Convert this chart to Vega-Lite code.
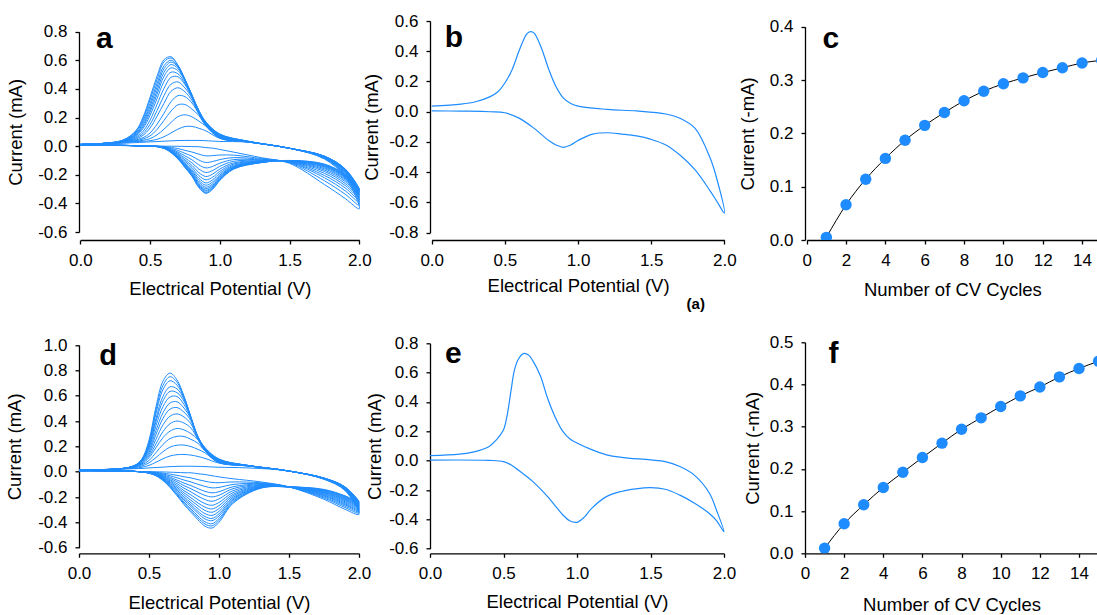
{
"$schema":"https://vega.github.io/schema/vega-lite/v6.json",
"background":"white",
"padding":{"left":5,"top":12,"right":0,"bottom":0},
"autosize":{"type":"pad"},
"config":{
 "locale":{"number":{"decimal":".","thousands":",","grouping":[3],"currency":["$",""],"minus":"-"}},
 "view":{"stroke":null},
 "font":"Liberation Sans",
 "text":{"font":"Liberation Sans"},
 "axis":{"domainColor":"black","domainWidth":1.3,"tickColor":"black","tickWidth":1.3,"tickSize":4,"labelColor":"black","labelFontSize":17,"labelFont":"Liberation Sans","titleFont":"Liberation Sans","titleFontSize":18.5,"titleFontWeight":"normal","titleColor":"black","grid":false,"labelPadding":8,"labelFlush":false,"labelOverlap":false,"tickCount":20}
},
"datasets":{
"a":[
{"c":1,"x":0,"y":0.012},{"c":1,"x":0.3,"y":0.02},{"c":1,"x":0.4,"y":0.025},{"c":1,"x":0.45,"y":0.027},{"c":1,"x":0.5,"y":0.03},{"c":1,"x":0.55,"y":0.032},{"c":1,"x":0.6,"y":0.035},{"c":1,"x":0.65,"y":0.037},{"c":1,"x":0.7,"y":0.039},{"c":1,"x":0.75,"y":0.04},{"c":1,"x":0.8,"y":0.04},{"c":1,"x":0.85,"y":0.04},{"c":1,"x":0.9,"y":0.038},{"c":1,"x":1,"y":0.033},{"c":1,"x":1.2,"y":0.028},{"c":1,"x":1.5,"y":-0.015},{"c":1,"x":1.75,"y":-0.09},{"c":1,"x":1.9,"y":-0.219},{"c":1,"x":2,"y":-0.438},
{"c":1,"x":1.9,"y":-0.367},{"c":1,"x":1.75,"y":-0.268},{"c":1,"x":1.5,"y":-0.12},{"c":1,"x":1.3,"y":-0.081},{"c":1,"x":1.1,"y":-0.042},{"c":1,"x":1,"y":-0.023},{"c":1,"x":0.95,"y":-0.014},{"c":1,"x":0.9,"y":-0.01},{"c":1,"x":0.85,"y":-0.004},{"c":1,"x":0.8,"y":-0.003},{"c":1,"x":0.75,"y":-0.002},{"c":1,"x":0.7,"y":-0.001},{"c":1,"x":0.6,"y":0},{"c":1,"x":0.4,"y":0.003},{"c":1,"x":0,"y":0.007},
{"c":2,"x":0,"y":0.012},{"c":2,"x":0.3,"y":0.025},{"c":2,"x":0.4,"y":0.032},{"c":2,"x":0.45,"y":0.034},{"c":2,"x":0.5,"y":0.038},{"c":2,"x":0.55,"y":0.048},{"c":2,"x":0.6,"y":0.066},{"c":2,"x":0.65,"y":0.092},{"c":2,"x":0.7,"y":0.119},{"c":2,"x":0.75,"y":0.137},{"c":2,"x":0.8,"y":0.138},{"c":2,"x":0.85,"y":0.125},{"c":2,"x":0.9,"y":0.107},{"c":2,"x":1,"y":0.055},{"c":2,"x":1.2,"y":0.029},{"c":2,"x":1.5,"y":-0.015},{"c":2,"x":1.75,"y":-0.086},{"c":2,"x":1.9,"y":-0.208},{"c":2,"x":2,"y":-0.413},
{"c":2,"x":1.9,"y":-0.337},{"c":2,"x":1.75,"y":-0.242},{"c":2,"x":1.5,"y":-0.116},{"c":2,"x":1.3,"y":-0.087},{"c":2,"x":1.1,"y":-0.063},{"c":2,"x":1,"y":-0.062},{"c":2,"x":0.95,"y":-0.066},{"c":2,"x":0.9,"y":-0.068},{"c":2,"x":0.85,"y":-0.056},{"c":2,"x":0.8,"y":-0.041},{"c":2,"x":0.75,"y":-0.029},{"c":2,"x":0.7,"y":-0.017},{"c":2,"x":0.6,"y":-0.003},{"c":2,"x":0.4,"y":0.003},{"c":2,"x":0,"y":0.007},
{"c":3,"x":0,"y":0.012},{"c":3,"x":0.3,"y":0.025},{"c":3,"x":0.4,"y":0.035},{"c":3,"x":0.45,"y":0.041},{"c":3,"x":0.5,"y":0.053},{"c":3,"x":0.55,"y":0.079},{"c":3,"x":0.6,"y":0.119},{"c":3,"x":0.65,"y":0.165},{"c":3,"x":0.7,"y":0.206},{"c":3,"x":0.75,"y":0.219},{"c":3,"x":0.8,"y":0.205},{"c":3,"x":0.85,"y":0.175},{"c":3,"x":0.9,"y":0.14},{"c":3,"x":1,"y":0.055},{"c":3,"x":1.2,"y":0.029},{"c":3,"x":1.5,"y":-0.015},{"c":3,"x":1.75,"y":-0.083},{"c":3,"x":1.9,"y":-0.2},{"c":3,"x":2,"y":-0.393},
{"c":3,"x":1.9,"y":-0.313},{"c":3,"x":1.75,"y":-0.221},{"c":3,"x":1.5,"y":-0.113},{"c":3,"x":1.3,"y":-0.092},{"c":3,"x":1.1,"y":-0.08},{"c":3,"x":1,"y":-0.094},{"c":3,"x":0.95,"y":-0.107},{"c":3,"x":0.9,"y":-0.114},{"c":3,"x":0.85,"y":-0.097},{"c":3,"x":0.8,"y":-0.07},{"c":3,"x":0.75,"y":-0.05},{"c":3,"x":0.7,"y":-0.03},{"c":3,"x":0.6,"y":-0.005},{"c":3,"x":0.4,"y":0.003},{"c":3,"x":0,"y":0.007},
{"c":4,"x":0,"y":0.012},{"c":4,"x":0.3,"y":0.027},{"c":4,"x":0.4,"y":0.039},{"c":4,"x":0.45,"y":0.05},{"c":4,"x":0.5,"y":0.072},{"c":4,"x":0.55,"y":0.117},{"c":4,"x":0.6,"y":0.18},{"c":4,"x":0.65,"y":0.245},{"c":4,"x":0.7,"y":0.289},{"c":4,"x":0.75,"y":0.291},{"c":4,"x":0.8,"y":0.259},{"c":4,"x":0.85,"y":0.214},{"c":4,"x":0.9,"y":0.142},{"c":4,"x":1,"y":0.058},{"c":4,"x":1.2,"y":0.03},{"c":4,"x":1.5,"y":-0.015},{"c":4,"x":1.75,"y":-0.081},{"c":4,"x":1.9,"y":-0.193},{"c":4,"x":2,"y":-0.377},
{"c":4,"x":1.9,"y":-0.293},{"c":4,"x":1.75,"y":-0.205},{"c":4,"x":1.5,"y":-0.111},{"c":4,"x":1.3,"y":-0.096},{"c":4,"x":1.1,"y":-0.094},{"c":4,"x":1,"y":-0.119},{"c":4,"x":0.95,"y":-0.141},{"c":4,"x":0.9,"y":-0.152},{"c":4,"x":0.85,"y":-0.131},{"c":4,"x":0.8,"y":-0.095},{"c":4,"x":0.75,"y":-0.068},{"c":4,"x":0.7,"y":-0.041},{"c":4,"x":0.6,"y":-0.007},{"c":4,"x":0.4,"y":0.003},{"c":4,"x":0,"y":0.007},
{"c":5,"x":0,"y":0.012},{"c":5,"x":0.3,"y":0.028},{"c":5,"x":0.4,"y":0.045},{"c":5,"x":0.45,"y":0.059},{"c":5,"x":0.5,"y":0.092},{"c":5,"x":0.55,"y":0.153},{"c":5,"x":0.6,"y":0.23},{"c":5,"x":0.65,"y":0.31},{"c":5,"x":0.7,"y":0.353},{"c":5,"x":0.75,"y":0.346},{"c":5,"x":0.8,"y":0.302},{"c":5,"x":0.85,"y":0.225},{"c":5,"x":0.9,"y":0.145},{"c":5,"x":1,"y":0.06},{"c":5,"x":1.2,"y":0.03},{"c":5,"x":1.5,"y":-0.015},{"c":5,"x":1.75,"y":-0.079},{"c":5,"x":1.9,"y":-0.187},{"c":5,"x":2,"y":-0.363},
{"c":5,"x":1.9,"y":-0.276},{"c":5,"x":1.75,"y":-0.19},{"c":5,"x":1.5,"y":-0.109},{"c":5,"x":1.3,"y":-0.099},{"c":5,"x":1.1,"y":-0.106},{"c":5,"x":1,"y":-0.141},{"c":5,"x":0.95,"y":-0.17},{"c":5,"x":0.9,"y":-0.184},{"c":5,"x":0.85,"y":-0.16},{"c":5,"x":0.8,"y":-0.116},{"c":5,"x":0.75,"y":-0.083},{"c":5,"x":0.7,"y":-0.05},{"c":5,"x":0.6,"y":-0.008},{"c":5,"x":0.4,"y":0.003},{"c":5,"x":0,"y":0.007},
{"c":6,"x":0,"y":0.012},{"c":6,"x":0.3,"y":0.03},{"c":6,"x":0.4,"y":0.05},{"c":6,"x":0.45,"y":0.076},{"c":6,"x":0.5,"y":0.127},{"c":6,"x":0.55,"y":0.209},{"c":6,"x":0.6,"y":0.3},{"c":6,"x":0.65,"y":0.383},{"c":6,"x":0.7,"y":0.408},{"c":6,"x":0.75,"y":0.38},{"c":6,"x":0.8,"y":0.32},{"c":6,"x":0.85,"y":0.228},{"c":6,"x":0.9,"y":0.148},{"c":6,"x":1,"y":0.063},{"c":6,"x":1.2,"y":0.031},{"c":6,"x":1.5,"y":-0.015},{"c":6,"x":1.75,"y":-0.077},{"c":6,"x":1.9,"y":-0.182},{"c":6,"x":2,"y":-0.351},
{"c":6,"x":1.9,"y":-0.262},{"c":6,"x":1.75,"y":-0.177},{"c":6,"x":1.5,"y":-0.107},{"c":6,"x":1.3,"y":-0.102},{"c":6,"x":1.1,"y":-0.117},{"c":6,"x":1,"y":-0.16},{"c":6,"x":0.95,"y":-0.195},{"c":6,"x":0.9,"y":-0.212},{"c":6,"x":0.85,"y":-0.185},{"c":6,"x":0.8,"y":-0.134},{"c":6,"x":0.75,"y":-0.096},{"c":6,"x":0.7,"y":-0.057},{"c":6,"x":0.6,"y":-0.01},{"c":6,"x":0.4,"y":0.003},{"c":6,"x":0,"y":0.007},
{"c":7,"x":0,"y":0.012},{"c":7,"x":0.3,"y":0.03},{"c":7,"x":0.4,"y":0.058},{"c":7,"x":0.45,"y":0.089},{"c":7,"x":0.5,"y":0.152},{"c":7,"x":0.55,"y":0.248},{"c":7,"x":0.6,"y":0.353},{"c":7,"x":0.65,"y":0.433},{"c":7,"x":0.7,"y":0.449},{"c":7,"x":0.75,"y":0.407},{"c":7,"x":0.8,"y":0.337},{"c":7,"x":0.85,"y":0.23},{"c":7,"x":0.9,"y":0.15},{"c":7,"x":1,"y":0.065},{"c":7,"x":1.2,"y":0.031},{"c":7,"x":1.5,"y":-0.015},{"c":7,"x":1.75,"y":-0.076},{"c":7,"x":1.9,"y":-0.177},{"c":7,"x":2,"y":-0.341},
{"c":7,"x":1.9,"y":-0.249},{"c":7,"x":1.75,"y":-0.167},{"c":7,"x":1.5,"y":-0.106},{"c":7,"x":1.3,"y":-0.105},{"c":7,"x":1.1,"y":-0.125},{"c":7,"x":1,"y":-0.176},{"c":7,"x":0.95,"y":-0.216},{"c":7,"x":0.9,"y":-0.235},{"c":7,"x":0.85,"y":-0.206},{"c":7,"x":0.8,"y":-0.149},{"c":7,"x":0.75,"y":-0.106},{"c":7,"x":0.7,"y":-0.064},{"c":7,"x":0.6,"y":-0.011},{"c":7,"x":0.4,"y":0.003},{"c":7,"x":0,"y":0.007},
{"c":8,"x":0,"y":0.012},{"c":8,"x":0.3,"y":0.032},{"c":8,"x":0.4,"y":0.065},{"c":8,"x":0.45,"y":0.104},{"c":8,"x":0.5,"y":0.182},{"c":8,"x":0.55,"y":0.291},{"c":8,"x":0.6,"y":0.404},{"c":8,"x":0.65,"y":0.481},{"c":8,"x":0.7,"y":0.485},{"c":8,"x":0.75,"y":0.43},{"c":8,"x":0.8,"y":0.343},{"c":8,"x":0.85,"y":0.233},{"c":8,"x":0.9,"y":0.153},{"c":8,"x":1,"y":0.068},{"c":8,"x":1.2,"y":0.032},{"c":8,"x":1.5,"y":-0.015},{"c":8,"x":1.75,"y":-0.075},{"c":8,"x":1.9,"y":-0.174},{"c":8,"x":2,"y":-0.332},
{"c":8,"x":1.9,"y":-0.238},{"c":8,"x":1.75,"y":-0.158},{"c":8,"x":1.5,"y":-0.105},{"c":8,"x":1.3,"y":-0.107},{"c":8,"x":1.1,"y":-0.133},{"c":8,"x":1,"y":-0.19},{"c":8,"x":0.95,"y":-0.234},{"c":8,"x":0.9,"y":-0.257},{"c":8,"x":0.85,"y":-0.224},{"c":8,"x":0.8,"y":-0.163},{"c":8,"x":0.75,"y":-0.116},{"c":8,"x":0.7,"y":-0.07},{"c":8,"x":0.6,"y":-0.012},{"c":8,"x":0.4,"y":0.003},{"c":8,"x":0,"y":0.007},
{"c":9,"x":0,"y":0.012},{"c":9,"x":0.3,"y":0.033},{"c":9,"x":0.4,"y":0.073},{"c":9,"x":0.45,"y":0.124},{"c":9,"x":0.5,"y":0.215},{"c":9,"x":0.55,"y":0.332},{"c":9,"x":0.6,"y":0.452},{"c":9,"x":0.65,"y":0.517},{"c":9,"x":0.7,"y":0.506},{"c":9,"x":0.75,"y":0.44},{"c":9,"x":0.8,"y":0.345},{"c":9,"x":0.85,"y":0.235},{"c":9,"x":0.9,"y":0.155},{"c":9,"x":1,"y":0.07},{"c":9,"x":1.2,"y":0.032},{"c":9,"x":1.5,"y":-0.015},{"c":9,"x":1.75,"y":-0.074},{"c":9,"x":1.9,"y":-0.171},{"c":9,"x":2,"y":-0.325},
{"c":9,"x":1.9,"y":-0.23},{"c":9,"x":1.75,"y":-0.15},{"c":9,"x":1.5,"y":-0.104},{"c":9,"x":1.3,"y":-0.109},{"c":9,"x":1.1,"y":-0.139},{"c":9,"x":1,"y":-0.202},{"c":9,"x":0.95,"y":-0.249},{"c":9,"x":0.9,"y":-0.273},{"c":9,"x":0.85,"y":-0.239},{"c":9,"x":0.8,"y":-0.173},{"c":9,"x":0.75,"y":-0.124},{"c":9,"x":0.7,"y":-0.074},{"c":9,"x":0.6,"y":-0.012},{"c":9,"x":0.4,"y":0.003},{"c":9,"x":0,"y":0.007},
{"c":10,"x":0,"y":0.012},{"c":10,"x":0.3,"y":0.035},{"c":10,"x":0.4,"y":0.079},{"c":10,"x":0.45,"y":0.137},{"c":10,"x":0.5,"y":0.238},{"c":10,"x":0.55,"y":0.361},{"c":10,"x":0.6,"y":0.488},{"c":10,"x":0.65,"y":0.547},{"c":10,"x":0.7,"y":0.528},{"c":10,"x":0.75,"y":0.454},{"c":10,"x":0.8,"y":0.348},{"c":10,"x":0.85,"y":0.238},{"c":10,"x":0.9,"y":0.158},{"c":10,"x":1,"y":0.073},{"c":10,"x":1.2,"y":0.033},{"c":10,"x":1.5,"y":-0.015},{"c":10,"x":1.75,"y":-0.073},{"c":10,"x":1.9,"y":-0.168},{"c":10,"x":2,"y":-0.318},
{"c":10,"x":1.9,"y":-0.222},{"c":10,"x":1.75,"y":-0.144},{"c":10,"x":1.5,"y":-0.103},{"c":10,"x":1.3,"y":-0.11},{"c":10,"x":1.1,"y":-0.144},{"c":10,"x":1,"y":-0.211},{"c":10,"x":0.95,"y":-0.262},{"c":10,"x":0.9,"y":-0.287},{"c":10,"x":0.85,"y":-0.252},{"c":10,"x":0.8,"y":-0.182},{"c":10,"x":0.75,"y":-0.13},{"c":10,"x":0.7,"y":-0.078},{"c":10,"x":0.6,"y":-0.013},{"c":10,"x":0.4,"y":0.003},{"c":10,"x":0,"y":0.007},
{"c":11,"x":0,"y":0.012},{"c":11,"x":0.3,"y":0.036},{"c":11,"x":0.4,"y":0.084},{"c":11,"x":0.45,"y":0.149},{"c":11,"x":0.5,"y":0.257},{"c":11,"x":0.55,"y":0.386},{"c":11,"x":0.6,"y":0.516},{"c":11,"x":0.65,"y":0.57},{"c":11,"x":0.7,"y":0.543},{"c":11,"x":0.75,"y":0.46},{"c":11,"x":0.8,"y":0.35},{"c":11,"x":0.85,"y":0.24},{"c":11,"x":0.9,"y":0.16},{"c":11,"x":1,"y":0.075},{"c":11,"x":1.2,"y":0.033},{"c":11,"x":1.5,"y":-0.015},{"c":11,"x":1.75,"y":-0.072},{"c":11,"x":1.9,"y":-0.166},{"c":11,"x":2,"y":-0.314},
{"c":11,"x":1.9,"y":-0.217},{"c":11,"x":1.75,"y":-0.139},{"c":11,"x":1.5,"y":-0.102},{"c":11,"x":1.3,"y":-0.112},{"c":11,"x":1.1,"y":-0.148},{"c":11,"x":1,"y":-0.218},{"c":11,"x":0.95,"y":-0.272},{"c":11,"x":0.9,"y":-0.298},{"c":11,"x":0.85,"y":-0.262},{"c":11,"x":0.8,"y":-0.189},{"c":11,"x":0.75,"y":-0.135},{"c":11,"x":0.7,"y":-0.081},{"c":11,"x":0.6,"y":-0.014},{"c":11,"x":0.4,"y":0.003},{"c":11,"x":0,"y":0.007},
{"c":12,"x":0,"y":0.012},{"c":12,"x":0.3,"y":0.037},{"c":12,"x":0.4,"y":0.091},{"c":12,"x":0.45,"y":0.163},{"c":12,"x":0.5,"y":0.278},{"c":12,"x":0.55,"y":0.413},{"c":12,"x":0.6,"y":0.541},{"c":12,"x":0.65,"y":0.588},{"c":12,"x":0.7,"y":0.553},{"c":12,"x":0.75,"y":0.463},{"c":12,"x":0.8,"y":0.353},{"c":12,"x":0.85,"y":0.243},{"c":12,"x":0.9,"y":0.163},{"c":12,"x":1,"y":0.078},{"c":12,"x":1.2,"y":0.034},{"c":12,"x":1.5,"y":-0.015},{"c":12,"x":1.75,"y":-0.071},{"c":12,"x":1.9,"y":-0.164},{"c":12,"x":2,"y":-0.31},
{"c":12,"x":1.9,"y":-0.212},{"c":12,"x":1.75,"y":-0.135},{"c":12,"x":1.5,"y":-0.101},{"c":12,"x":1.3,"y":-0.113},{"c":12,"x":1.1,"y":-0.152},{"c":12,"x":1,"y":-0.225},{"c":12,"x":0.95,"y":-0.28},{"c":12,"x":0.9,"y":-0.308},{"c":12,"x":0.85,"y":-0.27},{"c":12,"x":0.8,"y":-0.196},{"c":12,"x":0.75,"y":-0.14},{"c":12,"x":0.7,"y":-0.084},{"c":12,"x":0.6,"y":-0.014},{"c":12,"x":0.4,"y":0.003},{"c":12,"x":0,"y":0.007},
{"c":13,"x":0,"y":0.012},{"c":13,"x":0.3,"y":0.038},{"c":13,"x":0.4,"y":0.099},{"c":13,"x":0.45,"y":0.177},{"c":13,"x":0.5,"y":0.299},{"c":13,"x":0.55,"y":0.437},{"c":13,"x":0.6,"y":0.562},{"c":13,"x":0.65,"y":0.601},{"c":13,"x":0.7,"y":0.557},{"c":13,"x":0.75,"y":0.465},{"c":13,"x":0.8,"y":0.355},{"c":13,"x":0.85,"y":0.245},{"c":13,"x":0.9,"y":0.165},{"c":13,"x":1,"y":0.08},{"c":13,"x":1.2,"y":0.034},{"c":13,"x":1.5,"y":-0.015},{"c":13,"x":1.75,"y":-0.071},{"c":13,"x":1.9,"y":-0.163},{"c":13,"x":2,"y":-0.306},
{"c":13,"x":1.9,"y":-0.208},{"c":13,"x":1.75,"y":-0.132},{"c":13,"x":1.5,"y":-0.101},{"c":13,"x":1.3,"y":-0.113},{"c":13,"x":1.1,"y":-0.155},{"c":13,"x":1,"y":-0.23},{"c":13,"x":0.95,"y":-0.287},{"c":13,"x":0.9,"y":-0.315},{"c":13,"x":0.85,"y":-0.277},{"c":13,"x":0.8,"y":-0.201},{"c":13,"x":0.75,"y":-0.143},{"c":13,"x":0.7,"y":-0.086},{"c":13,"x":0.6,"y":-0.014},{"c":13,"x":0.4,"y":0.003},{"c":13,"x":0,"y":0.007},
{"c":14,"x":0,"y":0.012},{"c":14,"x":0.3,"y":0.04},{"c":14,"x":0.4,"y":0.107},{"c":14,"x":0.45,"y":0.192},{"c":14,"x":0.5,"y":0.323},{"c":14,"x":0.55,"y":0.465},{"c":14,"x":0.6,"y":0.589},{"c":14,"x":0.65,"y":0.616},{"c":14,"x":0.7,"y":0.566},{"c":14,"x":0.75,"y":0.468},{"c":14,"x":0.8,"y":0.358},{"c":14,"x":0.85,"y":0.248},{"c":14,"x":0.9,"y":0.168},{"c":14,"x":1,"y":0.083},{"c":14,"x":1.2,"y":0.035},{"c":14,"x":1.5,"y":-0.015},{"c":14,"x":1.75,"y":-0.07},{"c":14,"x":1.9,"y":-0.161},{"c":14,"x":2,"y":-0.303},
{"c":14,"x":1.9,"y":-0.203},{"c":14,"x":1.75,"y":-0.128},{"c":14,"x":1.5,"y":-0.1},{"c":14,"x":1.3,"y":-0.114},{"c":14,"x":1.1,"y":-0.158},{"c":14,"x":1,"y":-0.236},{"c":14,"x":0.95,"y":-0.295},{"c":14,"x":0.9,"y":-0.324},{"c":14,"x":0.85,"y":-0.285},{"c":14,"x":0.8,"y":-0.206},{"c":14,"x":0.75,"y":-0.147},{"c":14,"x":0.7,"y":-0.088},{"c":14,"x":0.6,"y":-0.015},{"c":14,"x":0.4,"y":0.003},{"c":14,"x":0,"y":0.007},
{"c":15,"x":0,"y":0.012},{"c":15,"x":0.3,"y":0.04},{"c":15,"x":0.4,"y":0.11},{"c":15,"x":0.45,"y":0.204},{"c":15,"x":0.5,"y":0.342},{"c":15,"x":0.55,"y":0.489},{"c":15,"x":0.6,"y":0.604},{"c":15,"x":0.65,"y":0.625},{"c":15,"x":0.7,"y":0.564},{"c":15,"x":0.75,"y":0.467},{"c":15,"x":0.8,"y":0.359},{"c":15,"x":0.85,"y":0.25},{"c":15,"x":0.9,"y":0.17},{"c":15,"x":1,"y":0.085},{"c":15,"x":1.2,"y":0.035},{"c":15,"x":1.5,"y":-0.015},{"c":15,"x":1.75,"y":-0.07},{"c":15,"x":1.9,"y":-0.16},{"c":15,"x":2,"y":-0.3},
{"c":15,"x":1.9,"y":-0.2},{"c":15,"x":1.75,"y":-0.125},{"c":15,"x":1.5,"y":-0.1},{"c":15,"x":1.3,"y":-0.115},{"c":15,"x":1.1,"y":-0.16},{"c":15,"x":1,"y":-0.24},{"c":15,"x":0.95,"y":-0.3},{"c":15,"x":0.9,"y":-0.33},{"c":15,"x":0.85,"y":-0.29},{"c":15,"x":0.8,"y":-0.21},{"c":15,"x":0.75,"y":-0.15},{"c":15,"x":0.7,"y":-0.09},{"c":15,"x":0.6,"y":-0.015},{"c":15,"x":0.4,"y":0.003},{"c":15,"x":0,"y":0.008}
],
"b":[
{"x":0,"y":0.037},{"x":0.2,"y":0.05},{"x":0.3,"y":0.066},{"x":0.4,"y":0.1},{"x":0.45,"y":0.13},{"x":0.5,"y":0.19},{"x":0.55,"y":0.28},{"x":0.6,"y":0.41},{"x":0.65,"y":0.515},{"x":0.675,"y":0.53},{"x":0.7,"y":0.52},{"x":0.75,"y":0.42},{"x":0.8,"y":0.28},{"x":0.85,"y":0.165},{"x":0.9,"y":0.09},{"x":0.95,"y":0.055},{"x":1,"y":0.037},{"x":1.2,"y":0.015},{"x":1.4,"y":0.005},{"x":1.6,"y":-0.015},{"x":1.7,"y":-0.045},{"x":1.8,"y":-0.11},{"x":1.9,"y":-0.3},{"x":1.95,"y":-0.45},{"x":2,"y":-0.67},
{"x":1.95,"y":-0.595},{"x":1.9,"y":-0.52},{"x":1.8,"y":-0.385},{"x":1.7,"y":-0.29},{"x":1.6,"y":-0.22},{"x":1.5,"y":-0.183},{"x":1.4,"y":-0.16},{"x":1.3,"y":-0.148},{"x":1.2,"y":-0.139},{"x":1.1,"y":-0.148},{"x":1,"y":-0.19},{"x":0.95,"y":-0.22},{"x":0.9,"y":-0.236},{"x":0.85,"y":-0.22},{"x":0.8,"y":-0.19},{"x":0.7,"y":-0.11},{"x":0.6,"y":-0.044},{"x":0.5,"y":-0.007},{"x":0.4,"y":0},{"x":0.2,"y":0.004},{"x":0,"y":0.006}
],
"c":[
{"n":1,"v":0.005},{"n":2,"v":0.066},{"n":3,"v":0.114},{"n":4,"v":0.153},{"n":5,"v":0.187},{"n":6,"v":0.215},{"n":7,"v":0.239},{"n":8,"v":0.261},{"n":9,"v":0.279},{"n":10,"v":0.293},{"n":11,"v":0.304},{"n":12,"v":0.314},{"n":13,"v":0.323},{"n":14,"v":0.332},{"n":15,"v":0.337}
],
"d":[
{"c":1,"x":0,"y":0.012},{"c":1,"x":0.3,"y":0.02},{"c":1,"x":0.4,"y":0.024},{"c":1,"x":0.45,"y":0.026},{"c":1,"x":0.5,"y":0.03},{"c":1,"x":0.55,"y":0.033},{"c":1,"x":0.6,"y":0.036},{"c":1,"x":0.65,"y":0.04},{"c":1,"x":0.7,"y":0.042},{"c":1,"x":0.75,"y":0.043},{"c":1,"x":0.8,"y":0.043},{"c":1,"x":0.85,"y":0.042},{"c":1,"x":0.9,"y":0.04},{"c":1,"x":1,"y":0.035},{"c":1,"x":1.2,"y":0.03},{"c":1,"x":1.5,"y":0.005},{"c":1,"x":1.75,"y":-0.06},{"c":1,"x":1.9,"y":-0.149},{"c":1,"x":2,"y":-0.337},
{"c":1,"x":1.9,"y":-0.297},{"c":1,"x":1.75,"y":-0.218},{"c":1,"x":1.5,"y":-0.12},{"c":1,"x":1.3,"y":-0.081},{"c":1,"x":1.1,"y":-0.056},{"c":1,"x":1,"y":-0.041},{"c":1,"x":0.95,"y":-0.032},{"c":1,"x":0.9,"y":-0.022},{"c":1,"x":0.85,"y":-0.016},{"c":1,"x":0.8,"y":-0.009},{"c":1,"x":0.75,"y":-0.008},{"c":1,"x":0.7,"y":-0.006},{"c":1,"x":0.6,"y":-0.002},{"c":1,"x":0.5,"y":0},{"c":1,"x":0,"y":0.008},
{"c":2,"x":0,"y":0.012},{"c":2,"x":0.3,"y":0.022},{"c":2,"x":0.4,"y":0.028},{"c":2,"x":0.45,"y":0.035},{"c":2,"x":0.5,"y":0.05},{"c":2,"x":0.55,"y":0.075},{"c":2,"x":0.6,"y":0.102},{"c":2,"x":0.65,"y":0.124},{"c":2,"x":0.7,"y":0.134},{"c":2,"x":0.75,"y":0.136},{"c":2,"x":0.8,"y":0.131},{"c":2,"x":0.85,"y":0.12},{"c":2,"x":0.9,"y":0.105},{"c":2,"x":1,"y":0.068},{"c":2,"x":1.2,"y":0.045},{"c":2,"x":1.5,"y":0.005},{"c":2,"x":1.75,"y":-0.058},{"c":2,"x":1.9,"y":-0.145},{"c":2,"x":2,"y":-0.325},
{"c":2,"x":1.9,"y":-0.283},{"c":2,"x":1.75,"y":-0.208},{"c":2,"x":1.5,"y":-0.12},{"c":2,"x":1.3,"y":-0.088},{"c":2,"x":1.1,"y":-0.081},{"c":2,"x":1,"y":-0.087},{"c":2,"x":0.95,"y":-0.085},{"c":2,"x":0.9,"y":-0.075},{"c":2,"x":0.85,"y":-0.063},{"c":2,"x":0.8,"y":-0.049},{"c":2,"x":0.75,"y":-0.04},{"c":2,"x":0.7,"y":-0.029},{"c":2,"x":0.6,"y":-0.011},{"c":2,"x":0.5,"y":-0.002},{"c":2,"x":0,"y":0.008},
{"c":3,"x":0,"y":0.012},{"c":3,"x":0.3,"y":0.022},{"c":3,"x":0.4,"y":0.032},{"c":3,"x":0.45,"y":0.045},{"c":3,"x":0.5,"y":0.07},{"c":3,"x":0.55,"y":0.112},{"c":3,"x":0.6,"y":0.158},{"c":3,"x":0.65,"y":0.194},{"c":3,"x":0.7,"y":0.209},{"c":3,"x":0.75,"y":0.21},{"c":3,"x":0.8,"y":0.198},{"c":3,"x":0.85,"y":0.176},{"c":3,"x":0.9,"y":0.149},{"c":3,"x":1,"y":0.07},{"c":3,"x":1.2,"y":0.046},{"c":3,"x":1.5,"y":0.005},{"c":3,"x":1.75,"y":-0.057},{"c":3,"x":1.9,"y":-0.142},{"c":3,"x":2,"y":-0.315},
{"c":3,"x":1.9,"y":-0.272},{"c":3,"x":1.75,"y":-0.2},{"c":3,"x":1.5,"y":-0.12},{"c":3,"x":1.3,"y":-0.093},{"c":3,"x":1.1,"y":-0.101},{"c":3,"x":1,"y":-0.124},{"c":3,"x":0.95,"y":-0.128},{"c":3,"x":0.9,"y":-0.116},{"c":3,"x":0.85,"y":-0.1},{"c":3,"x":0.8,"y":-0.081},{"c":3,"x":0.75,"y":-0.066},{"c":3,"x":0.7,"y":-0.048},{"c":3,"x":0.6,"y":-0.018},{"c":3,"x":0.5,"y":-0.003},{"c":3,"x":0,"y":0.008},
{"c":4,"x":0,"y":0.012},{"c":4,"x":0.3,"y":0.023},{"c":4,"x":0.4,"y":0.036},{"c":4,"x":0.45,"y":0.054},{"c":4,"x":0.5,"y":0.089},{"c":4,"x":0.55,"y":0.151},{"c":4,"x":0.6,"y":0.215},{"c":4,"x":0.65,"y":0.261},{"c":4,"x":0.7,"y":0.279},{"c":4,"x":0.75,"y":0.278},{"c":4,"x":0.8,"y":0.255},{"c":4,"x":0.85,"y":0.224},{"c":4,"x":0.9,"y":0.163},{"c":4,"x":1,"y":0.073},{"c":4,"x":1.2,"y":0.047},{"c":4,"x":1.5,"y":0.005},{"c":4,"x":1.75,"y":-0.057},{"c":4,"x":1.9,"y":-0.14},{"c":4,"x":2,"y":-0.306},
{"c":4,"x":1.9,"y":-0.262},{"c":4,"x":1.75,"y":-0.192},{"c":4,"x":1.5,"y":-0.12},{"c":4,"x":1.3,"y":-0.097},{"c":4,"x":1.1,"y":-0.119},{"c":4,"x":1,"y":-0.158},{"c":4,"x":0.95,"y":-0.167},{"c":4,"x":0.9,"y":-0.155},{"c":4,"x":0.85,"y":-0.134},{"c":4,"x":0.8,"y":-0.11},{"c":4,"x":0.75,"y":-0.09},{"c":4,"x":0.7,"y":-0.066},{"c":4,"x":0.6,"y":-0.024},{"c":4,"x":0.5,"y":-0.004},{"c":4,"x":0,"y":0.008},
{"c":5,"x":0,"y":0.012},{"c":5,"x":0.3,"y":0.024},{"c":5,"x":0.4,"y":0.041},{"c":5,"x":0.45,"y":0.062},{"c":5,"x":0.5,"y":0.11},{"c":5,"x":0.55,"y":0.19},{"c":5,"x":0.6,"y":0.269},{"c":5,"x":0.65,"y":0.32},{"c":5,"x":0.7,"y":0.341},{"c":5,"x":0.75,"y":0.33},{"c":5,"x":0.8,"y":0.3},{"c":5,"x":0.85,"y":0.252},{"c":5,"x":0.9,"y":0.165},{"c":5,"x":1,"y":0.075},{"c":5,"x":1.2,"y":0.047},{"c":5,"x":1.5,"y":0.005},{"c":5,"x":1.75,"y":-0.056},{"c":5,"x":1.9,"y":-0.137},{"c":5,"x":2,"y":-0.298},
{"c":5,"x":1.9,"y":-0.254},{"c":5,"x":1.75,"y":-0.186},{"c":5,"x":1.5,"y":-0.12},{"c":5,"x":1.3,"y":-0.101},{"c":5,"x":1.1,"y":-0.134},{"c":5,"x":1,"y":-0.186},{"c":5,"x":0.95,"y":-0.199},{"c":5,"x":0.9,"y":-0.187},{"c":5,"x":0.85,"y":-0.163},{"c":5,"x":0.8,"y":-0.135},{"c":5,"x":0.75,"y":-0.11},{"c":5,"x":0.7,"y":-0.08},{"c":5,"x":0.6,"y":-0.03},{"c":5,"x":0.5,"y":-0.005},{"c":5,"x":0,"y":0.008},
{"c":6,"x":0,"y":0.012},{"c":6,"x":0.3,"y":0.024},{"c":6,"x":0.4,"y":0.042},{"c":6,"x":0.45,"y":0.068},{"c":6,"x":0.5,"y":0.123},{"c":6,"x":0.55,"y":0.22},{"c":6,"x":0.6,"y":0.317},{"c":6,"x":0.65,"y":0.379},{"c":6,"x":0.7,"y":0.4},{"c":6,"x":0.75,"y":0.384},{"c":6,"x":0.8,"y":0.344},{"c":6,"x":0.85,"y":0.255},{"c":6,"x":0.9,"y":0.168},{"c":6,"x":1,"y":0.078},{"c":6,"x":1.2,"y":0.048},{"c":6,"x":1.5,"y":0.005},{"c":6,"x":1.75,"y":-0.055},{"c":6,"x":1.9,"y":-0.135},{"c":6,"x":2,"y":-0.29},
{"c":6,"x":1.9,"y":-0.245},{"c":6,"x":1.75,"y":-0.18},{"c":6,"x":1.5,"y":-0.12},{"c":6,"x":1.3,"y":-0.105},{"c":6,"x":1.1,"y":-0.15},{"c":6,"x":1,"y":-0.215},{"c":6,"x":0.95,"y":-0.233},{"c":6,"x":0.9,"y":-0.22},{"c":6,"x":0.85,"y":-0.193},{"c":6,"x":0.8,"y":-0.16},{"c":6,"x":0.75,"y":-0.13},{"c":6,"x":0.7,"y":-0.095},{"c":6,"x":0.6,"y":-0.035},{"c":6,"x":0.5,"y":-0.006},{"c":6,"x":0,"y":0.008},
{"c":7,"x":0,"y":0.012},{"c":7,"x":0.3,"y":0.024},{"c":7,"x":0.4,"y":0.044},{"c":7,"x":0.45,"y":0.073},{"c":7,"x":0.5,"y":0.138},{"c":7,"x":0.55,"y":0.257},{"c":7,"x":0.6,"y":0.37},{"c":7,"x":0.65,"y":0.438},{"c":7,"x":0.7,"y":0.456},{"c":7,"x":0.75,"y":0.432},{"c":7,"x":0.8,"y":0.377},{"c":7,"x":0.85,"y":0.257},{"c":7,"x":0.9,"y":0.17},{"c":7,"x":1,"y":0.08},{"c":7,"x":1.2,"y":0.048},{"c":7,"x":1.5,"y":0.005},{"c":7,"x":1.75,"y":-0.054},{"c":7,"x":1.9,"y":-0.133},{"c":7,"x":2,"y":-0.282},
{"c":7,"x":1.9,"y":-0.237},{"c":7,"x":1.75,"y":-0.174},{"c":7,"x":1.5,"y":-0.12},{"c":7,"x":1.3,"y":-0.109},{"c":7,"x":1.1,"y":-0.165},{"c":7,"x":1,"y":-0.243},{"c":7,"x":0.95,"y":-0.265},{"c":7,"x":0.9,"y":-0.252},{"c":7,"x":0.85,"y":-0.221},{"c":7,"x":0.8,"y":-0.184},{"c":7,"x":0.75,"y":-0.15},{"c":7,"x":0.7,"y":-0.109},{"c":7,"x":0.6,"y":-0.04},{"c":7,"x":0.5,"y":-0.007},{"c":7,"x":0,"y":0.008},
{"c":8,"x":0,"y":0.012},{"c":8,"x":0.3,"y":0.024},{"c":8,"x":0.4,"y":0.046},{"c":8,"x":0.45,"y":0.079},{"c":8,"x":0.5,"y":0.154},{"c":8,"x":0.55,"y":0.294},{"c":8,"x":0.6,"y":0.421},{"c":8,"x":0.65,"y":0.494},{"c":8,"x":0.7,"y":0.506},{"c":8,"x":0.75,"y":0.47},{"c":8,"x":0.8,"y":0.401},{"c":8,"x":0.85,"y":0.26},{"c":8,"x":0.9,"y":0.173},{"c":8,"x":1,"y":0.083},{"c":8,"x":1.2,"y":0.049},{"c":8,"x":1.5,"y":0.005},{"c":8,"x":1.75,"y":-0.054},{"c":8,"x":1.9,"y":-0.131},{"c":8,"x":2,"y":-0.276},
{"c":8,"x":1.9,"y":-0.229},{"c":8,"x":1.75,"y":-0.168},{"c":8,"x":1.5,"y":-0.12},{"c":8,"x":1.3,"y":-0.112},{"c":8,"x":1.1,"y":-0.179},{"c":8,"x":1,"y":-0.268},{"c":8,"x":0.95,"y":-0.294},{"c":8,"x":0.9,"y":-0.28},{"c":8,"x":0.85,"y":-0.247},{"c":8,"x":0.8,"y":-0.206},{"c":8,"x":0.75,"y":-0.167},{"c":8,"x":0.7,"y":-0.122},{"c":8,"x":0.6,"y":-0.045},{"c":8,"x":0.5,"y":-0.008},{"c":8,"x":0,"y":0.008},
{"c":9,"x":0,"y":0.012},{"c":9,"x":0.3,"y":0.024},{"c":9,"x":0.4,"y":0.048},{"c":9,"x":0.45,"y":0.083},{"c":9,"x":0.5,"y":0.17},{"c":9,"x":0.55,"y":0.326},{"c":9,"x":0.6,"y":0.465},{"c":9,"x":0.65,"y":0.543},{"c":9,"x":0.7,"y":0.552},{"c":9,"x":0.75,"y":0.502},{"c":9,"x":0.8,"y":0.415},{"c":9,"x":0.85,"y":0.262},{"c":9,"x":0.9,"y":0.175},{"c":9,"x":1,"y":0.085},{"c":9,"x":1.2,"y":0.049},{"c":9,"x":1.5,"y":0.005},{"c":9,"x":1.75,"y":-0.053},{"c":9,"x":1.9,"y":-0.129},{"c":9,"x":2,"y":-0.27},
{"c":9,"x":1.9,"y":-0.222},{"c":9,"x":1.75,"y":-0.164},{"c":9,"x":1.5,"y":-0.12},{"c":9,"x":1.3,"y":-0.115},{"c":9,"x":1.1,"y":-0.191},{"c":9,"x":1,"y":-0.291},{"c":9,"x":0.95,"y":-0.32},{"c":9,"x":0.9,"y":-0.306},{"c":9,"x":0.85,"y":-0.269},{"c":9,"x":0.8,"y":-0.226},{"c":9,"x":0.75,"y":-0.183},{"c":9,"x":0.7,"y":-0.134},{"c":9,"x":0.6,"y":-0.049},{"c":9,"x":0.5,"y":-0.008},{"c":9,"x":0,"y":0.008},
{"c":10,"x":0,"y":0.012},{"c":10,"x":0.3,"y":0.023},{"c":10,"x":0.4,"y":0.049},{"c":10,"x":0.45,"y":0.089},{"c":10,"x":0.5,"y":0.186},{"c":10,"x":0.55,"y":0.363},{"c":10,"x":0.6,"y":0.514},{"c":10,"x":0.65,"y":0.59},{"c":10,"x":0.7,"y":0.593},{"c":10,"x":0.75,"y":0.531},{"c":10,"x":0.8,"y":0.418},{"c":10,"x":0.85,"y":0.265},{"c":10,"x":0.9,"y":0.178},{"c":10,"x":1,"y":0.088},{"c":10,"x":1.2,"y":0.05},{"c":10,"x":1.5,"y":0.005},{"c":10,"x":1.75,"y":-0.052},{"c":10,"x":1.9,"y":-0.127},{"c":10,"x":2,"y":-0.264},
{"c":10,"x":1.9,"y":-0.216},{"c":10,"x":1.75,"y":-0.159},{"c":10,"x":1.5,"y":-0.12},{"c":10,"x":1.3,"y":-0.118},{"c":10,"x":1.1,"y":-0.203},{"c":10,"x":1,"y":-0.313},{"c":10,"x":0.95,"y":-0.345},{"c":10,"x":0.9,"y":-0.331},{"c":10,"x":0.85,"y":-0.292},{"c":10,"x":0.8,"y":-0.245},{"c":10,"x":0.75,"y":-0.199},{"c":10,"x":0.7,"y":-0.145},{"c":10,"x":0.6,"y":-0.054},{"c":10,"x":0.5,"y":-0.009},{"c":10,"x":0,"y":0.008},
{"c":11,"x":0,"y":0.012},{"c":11,"x":0.3,"y":0.024},{"c":11,"x":0.4,"y":0.049},{"c":11,"x":0.45,"y":0.092},{"c":11,"x":0.5,"y":0.198},{"c":11,"x":0.55,"y":0.397},{"c":11,"x":0.6,"y":0.559},{"c":11,"x":0.65,"y":0.634},{"c":11,"x":0.7,"y":0.624},{"c":11,"x":0.75,"y":0.556},{"c":11,"x":0.8,"y":0.42},{"c":11,"x":0.85,"y":0.267},{"c":11,"x":0.9,"y":0.18},{"c":11,"x":1,"y":0.09},{"c":11,"x":1.2,"y":0.05},{"c":11,"x":1.5,"y":0.005},{"c":11,"x":1.75,"y":-0.052},{"c":11,"x":1.9,"y":-0.125},{"c":11,"x":2,"y":-0.258},
{"c":11,"x":1.9,"y":-0.21},{"c":11,"x":1.75,"y":-0.154},{"c":11,"x":1.5,"y":-0.12},{"c":11,"x":1.3,"y":-0.121},{"c":11,"x":1.1,"y":-0.214},{"c":11,"x":1,"y":-0.333},{"c":11,"x":0.95,"y":-0.369},{"c":11,"x":0.9,"y":-0.354},{"c":11,"x":0.85,"y":-0.313},{"c":11,"x":0.8,"y":-0.262},{"c":11,"x":0.75,"y":-0.213},{"c":11,"x":0.7,"y":-0.156},{"c":11,"x":0.6,"y":-0.057},{"c":11,"x":0.5,"y":-0.01},{"c":11,"x":0,"y":0.008},
{"c":12,"x":0,"y":0.012},{"c":12,"x":0.3,"y":0.023},{"c":12,"x":0.4,"y":0.05},{"c":12,"x":0.45,"y":0.092},{"c":12,"x":0.5,"y":0.207},{"c":12,"x":0.55,"y":0.421},{"c":12,"x":0.6,"y":0.595},{"c":12,"x":0.65,"y":0.67},{"c":12,"x":0.7,"y":0.654},{"c":12,"x":0.75,"y":0.572},{"c":12,"x":0.8,"y":0.423},{"c":12,"x":0.85,"y":0.27},{"c":12,"x":0.9,"y":0.183},{"c":12,"x":1,"y":0.093},{"c":12,"x":1.2,"y":0.05},{"c":12,"x":1.5,"y":0.005},{"c":12,"x":1.75,"y":-0.051},{"c":12,"x":1.9,"y":-0.124},{"c":12,"x":2,"y":-0.254},
{"c":12,"x":1.9,"y":-0.205},{"c":12,"x":1.75,"y":-0.151},{"c":12,"x":1.5,"y":-0.12},{"c":12,"x":1.3,"y":-0.123},{"c":12,"x":1.1,"y":-0.223},{"c":12,"x":1,"y":-0.35},{"c":12,"x":0.95,"y":-0.387},{"c":12,"x":0.9,"y":-0.373},{"c":12,"x":0.85,"y":-0.329},{"c":12,"x":0.8,"y":-0.276},{"c":12,"x":0.75,"y":-0.225},{"c":12,"x":0.7,"y":-0.164},{"c":12,"x":0.6,"y":-0.06},{"c":12,"x":0.5,"y":-0.01},{"c":12,"x":0,"y":0.008},
{"c":13,"x":0,"y":0.012},{"c":13,"x":0.3,"y":0.023},{"c":13,"x":0.4,"y":0.051},{"c":13,"x":0.45,"y":0.097},{"c":13,"x":0.5,"y":0.222},{"c":13,"x":0.55,"y":0.46},{"c":13,"x":0.6,"y":0.648},{"c":13,"x":0.65,"y":0.718},{"c":13,"x":0.7,"y":0.683},{"c":13,"x":0.75,"y":0.585},{"c":13,"x":0.8,"y":0.425},{"c":13,"x":0.85,"y":0.272},{"c":13,"x":0.9,"y":0.185},{"c":13,"x":1,"y":0.095},{"c":13,"x":1.2,"y":0.05},{"c":13,"x":1.5,"y":0.005},{"c":13,"x":1.75,"y":-0.051},{"c":13,"x":1.9,"y":-0.122},{"c":13,"x":2,"y":-0.248},
{"c":13,"x":1.9,"y":-0.199},{"c":13,"x":1.75,"y":-0.146},{"c":13,"x":1.5,"y":-0.12},{"c":13,"x":1.3,"y":-0.126},{"c":13,"x":1.1,"y":-0.234},{"c":13,"x":1,"y":-0.37},{"c":13,"x":0.95,"y":-0.411},{"c":13,"x":0.9,"y":-0.396},{"c":13,"x":0.85,"y":-0.35},{"c":13,"x":0.8,"y":-0.294},{"c":13,"x":0.75,"y":-0.239},{"c":13,"x":0.7,"y":-0.175},{"c":13,"x":0.6,"y":-0.064},{"c":13,"x":0.5,"y":-0.011},{"c":13,"x":0,"y":0.008},
{"c":14,"x":0,"y":0.012},{"c":14,"x":0.3,"y":0.023},{"c":14,"x":0.4,"y":0.05},{"c":14,"x":0.45,"y":0.097},{"c":14,"x":0.5,"y":0.232},{"c":14,"x":0.55,"y":0.487},{"c":14,"x":0.6,"y":0.681},{"c":14,"x":0.65,"y":0.75},{"c":14,"x":0.7,"y":0.706},{"c":14,"x":0.75,"y":0.589},{"c":14,"x":0.8,"y":0.428},{"c":14,"x":0.85,"y":0.275},{"c":14,"x":0.9,"y":0.188},{"c":14,"x":1,"y":0.098},{"c":14,"x":1.2,"y":0.05},{"c":14,"x":1.5,"y":0.005},{"c":14,"x":1.75,"y":-0.05},{"c":14,"x":1.9,"y":-0.121},{"c":14,"x":2,"y":-0.244},
{"c":14,"x":1.9,"y":-0.194},{"c":14,"x":1.75,"y":-0.143},{"c":14,"x":1.5,"y":-0.12},{"c":14,"x":1.3,"y":-0.128},{"c":14,"x":1.1,"y":-0.242},{"c":14,"x":1,"y":-0.385},{"c":14,"x":0.95,"y":-0.428},{"c":14,"x":0.9,"y":-0.413},{"c":14,"x":0.85,"y":-0.365},{"c":14,"x":0.8,"y":-0.307},{"c":14,"x":0.75,"y":-0.25},{"c":14,"x":0.7,"y":-0.182},{"c":14,"x":0.6,"y":-0.067},{"c":14,"x":0.5,"y":-0.012},{"c":14,"x":0,"y":0.008},
{"c":15,"x":0,"y":0.012},{"c":15,"x":0.3,"y":0.023},{"c":15,"x":0.4,"y":0.05},{"c":15,"x":0.45,"y":0.102},{"c":15,"x":0.5,"y":0.248},{"c":15,"x":0.55,"y":0.514},{"c":15,"x":0.6,"y":0.715},{"c":15,"x":0.65,"y":0.778},{"c":15,"x":0.7,"y":0.724},{"c":15,"x":0.75,"y":0.596},{"c":15,"x":0.8,"y":0.43},{"c":15,"x":0.85,"y":0.277},{"c":15,"x":0.9,"y":0.19},{"c":15,"x":1,"y":0.1},{"c":15,"x":1.2,"y":0.05},{"c":15,"x":1.5,"y":0.005},{"c":15,"x":1.75,"y":-0.05},{"c":15,"x":1.9,"y":-0.12},{"c":15,"x":2,"y":-0.24},
{"c":15,"x":1.9,"y":-0.19},{"c":15,"x":1.75,"y":-0.14},{"c":15,"x":1.5,"y":-0.12},{"c":15,"x":1.3,"y":-0.13},{"c":15,"x":1.1,"y":-0.25},{"c":15,"x":1,"y":-0.4},{"c":15,"x":0.95,"y":-0.445},{"c":15,"x":0.9,"y":-0.43},{"c":15,"x":0.85,"y":-0.38},{"c":15,"x":0.8,"y":-0.32},{"c":15,"x":0.75,"y":-0.26},{"c":15,"x":0.7,"y":-0.19},{"c":15,"x":0.6,"y":-0.07},{"c":15,"x":0.5,"y":-0.012},{"c":15,"x":0,"y":0.008}
],
"e":[
{"x":0,"y":0.034},{"x":0.2,"y":0.045},{"x":0.3,"y":0.06},{"x":0.4,"y":0.095},{"x":0.45,"y":0.14},{"x":0.5,"y":0.21},{"x":0.525,"y":0.31},{"x":0.55,"y":0.47},{"x":0.575,"y":0.62},{"x":0.6,"y":0.69},{"x":0.635,"y":0.73},{"x":0.67,"y":0.72},{"x":0.7,"y":0.68},{"x":0.75,"y":0.58},{"x":0.8,"y":0.425},{"x":0.85,"y":0.3},{"x":0.9,"y":0.205},{"x":0.95,"y":0.15},{"x":1,"y":0.12},{"x":1.1,"y":0.075},{"x":1.2,"y":0.04},{"x":1.3,"y":0.023},{"x":1.5,"y":0.005},{"x":1.6,"y":-0.007},{"x":1.7,"y":-0.04},{"x":1.8,"y":-0.1},{"x":1.9,"y":-0.22},{"x":1.95,"y":-0.34},{"x":2,"y":-0.485},
{"x":1.95,"y":-0.41},{"x":1.9,"y":-0.36},{"x":1.8,"y":-0.29},{"x":1.7,"y":-0.235},{"x":1.6,"y":-0.195},{"x":1.5,"y":-0.184},{"x":1.4,"y":-0.192},{"x":1.3,"y":-0.21},{"x":1.2,"y":-0.245},{"x":1.1,"y":-0.325},{"x":1.05,"y":-0.385},{"x":1,"y":-0.42},{"x":0.95,"y":-0.41},{"x":0.9,"y":-0.365},{"x":0.8,"y":-0.245},{"x":0.7,"y":-0.143},{"x":0.6,"y":-0.064},{"x":0.55,"y":-0.028},{"x":0.5,"y":-0.006},{"x":0.4,"y":0.002},{"x":0,"y":0.004}
],
"f":[
{"n":1,"v":0.012},{"n":2,"v":0.07},{"n":3,"v":0.115},{"n":4,"v":0.156},{"n":5,"v":0.192},{"n":6,"v":0.227},{"n":7,"v":0.261},{"n":8,"v":0.294},{"n":9,"v":0.321},{"n":10,"v":0.348},{"n":11,"v":0.373},{"n":12,"v":0.394},{"n":13,"v":0.418},{"n":14,"v":0.438},{"n":15,"v":0.455}
]
},
"columns":3,
"spacing":{"row":102.3,"column":0},
"bounds":"flush",
"concat":[
 {"width":350.3,"height":219,"layer":[
  {"data":{"name":"a"},"mark":{"type":"line","interpolate":"catmull-rom","strokeWidth":1,"color":"#1e8cff"},
   "encoding":{
    "x":{"field":"x","type":"quantitative","scale":{"domain":[0,2],"range":[1.3,280.3],"nice":false,"zero":false},"axis":{"title":"Electrical Potential (V)","values":[0,0.5,1,1.5,2],"format":".1f","titlePadding":11,"labelOverlap":false,"tickCount":20}},
    "y":{"field":"y","type":"quantitative","scale":{"domain":[-0.6,0.8],"range":[211,10.7],"nice":false,"zero":false},"axis":{"title":"Current (mA)","values":[-0.6,-0.4,-0.2,0,0.2,0.4,0.6,0.8],"format":".1f","titlePadding":11.8,"labelOverlap":false,"tickCount":20}},
    "detail":{"field":"c","type":"nominal"},
    "order":{"value":null}}},
  {"data":{"values":[{}]},"mark":{"type":"text","text":"a","fontSize":30,"fontWeight":"bold","align":"left","baseline":"alphabetic"},
   "encoding":{"x":{"datum":0.1125},"y":{"datum":0.684}}}
 ]},
 {"width":375,"height":219,"layer":[
  {"data":{"name":"b"},"mark":{"type":"line","interpolate":"catmull-rom","strokeWidth":1.2,"color":"#1e8cff"},
   "encoding":{
    "x":{"field":"x","type":"quantitative","scale":{"domain":[0,2],"range":[1.7,294.4],"nice":false,"zero":false},"axis":{"title":"Electrical Potential (V)","values":[0,0.5,1,1.5,2],"format":".1f","titlePadding":8.8,"labelOverlap":false,"tickCount":20}},
    "y":{"field":"y","type":"quantitative","scale":{"domain":[-0.8,0.6],"range":[211.7,0],"nice":false,"zero":false},"axis":{"title":"Current (mA)","values":[-0.8,-0.6,-0.4,-0.2,0,0.2,0.4,0.6],"format":".1f","titlePadding":7.5,"labelOverlap":false,"tickCount":20}},
    "order":{"value":null}}},
  {"data":{"values":[{}]},"mark":{"type":"text","text":"b","fontSize":30,"fontWeight":"bold","align":"left","baseline":"alphabetic"},
   "encoding":{"x":{"datum":0.089},"y":{"datum":0.43}}},
  {"data":{"values":[{}]},"mark":{"type":"text","text":"(a)","fontSize":15,"fontWeight":"bold","align":"center","baseline":"alphabetic"},
   "encoding":{"x":{"datum":1.804},"y":{"datum":-1.305}}}
 ]},
 {"width":293,"height":219,"layer":[
  {"data":{"name":"c"},"mark":{"type":"line","interpolate":"monotone","strokeWidth":1,"color":"black","clip":true},
   "encoding":{
    "x":{"field":"n","type":"quantitative","scale":{"domain":[0,14.81],"range":[1.7,293],"nice":false,"zero":false},"axis":{"title":"Number of CV Cycles","values":[0,2,4,6,8,10,12,14],"titlePadding":12.2,"labelOverlap":false,"tickCount":20}},
    "y":{"field":"v","type":"quantitative","scale":{"domain":[0,0.4],"range":[219,5.7],"nice":false,"zero":false},"axis":{"title":"Current (-mA)","values":[0,0.1,0.2,0.3,0.4],"format":".1f","titlePadding":11.5,"labelOverlap":false,"tickCount":20}}}},
  {"data":{"name":"c"},"mark":{"type":"circle","size":130,"color":"#1e8cff","opacity":1,"clip":true},
   "encoding":{"x":{"field":"n","type":"quantitative"},"y":{"field":"v","type":"quantitative"}}},
  {"data":{"values":[{}]},"mark":{"type":"text","text":"c","fontSize":30,"fontWeight":"bold","align":"left","baseline":"alphabetic"},
   "encoding":{"x":{"datum":0.8},"y":{"datum":0.3595}}}
 ]},
 {"width":350.3,"height":211,"layer":[
  {"data":{"name":"d"},"mark":{"type":"line","interpolate":"catmull-rom","strokeWidth":1,"color":"#1e8cff"},
   "encoding":{
    "x":{"field":"x","type":"quantitative","scale":{"domain":[0,2],"range":[0,280],"nice":false,"zero":false},"axis":{"title":"Electrical Potential (V)","values":[0,0.5,1,1.5,2],"format":".1f","titlePadding":12.5,"labelOverlap":false,"tickCount":20}},
    "y":{"field":"y","type":"quantitative","scale":{"domain":[-0.6,1.0],"range":[205.4,2.7],"nice":false,"zero":false},"axis":{"title":"Current (mA)","values":[-0.6,-0.4,-0.2,0,0.2,0.4,0.6,0.8,1.0],"format":".1f","titlePadding":13.5,"labelOverlap":false,"tickCount":20}},
    "detail":{"field":"c","type":"nominal"},
    "order":{"value":null}}},
  {"data":{"values":[{}]},"mark":{"type":"text","text":"d","fontSize":29,"fontWeight":"bold","align":"left","baseline":"alphabetic"},
   "encoding":{"x":{"datum":0.145},"y":{"datum":0.842}}}
 ]},
 {"width":375,"height":211,"layer":[
  {"data":{"name":"e"},"mark":{"type":"line","interpolate":"catmull-rom","strokeWidth":1.2,"color":"#1e8cff"},
   "encoding":{
    "x":{"field":"x","type":"quantitative","scale":{"domain":[0,2],"range":[0,294],"nice":false,"zero":false},"axis":{"title":"Electrical Potential (V)","values":[0,0.5,1,1.5,2],"format":".1f","titlePadding":11.3,"labelOverlap":false,"tickCount":20}},
    "y":{"field":"y","type":"quantitative","scale":{"domain":[-0.6,0.8],"range":[206.4,1],"nice":false,"zero":false},"axis":{"title":"Current (mA)","values":[-0.6,-0.4,-0.2,0,0.2,0.4,0.6,0.8],"format":".1f","titlePadding":4.3,"labelOverlap":false,"tickCount":20}},
    "order":{"value":null}}},
  {"data":{"values":[{}]},"mark":{"type":"text","text":"e","fontSize":30,"fontWeight":"bold","align":"left","baseline":"alphabetic"},
   "encoding":{"x":{"datum":0.102},"y":{"datum":0.668}}}
 ]},
 {"width":293,"height":211,"layer":[
  {"data":{"name":"f"},"mark":{"type":"line","interpolate":"monotone","strokeWidth":1,"color":"black","clip":true},
   "encoding":{
    "x":{"field":"n","type":"quantitative","scale":{"domain":[0,14.97],"range":[0,293],"nice":false,"zero":false},"axis":{"title":"Number of CV Cycles","values":[0,2,4,6,8,10,12,14],"titlePadding":13.9,"labelOverlap":false,"tickCount":20}},
    "y":{"field":"v","type":"quantitative","scale":{"domain":[0,0.5],"range":[211,0],"nice":false,"zero":false},"axis":{"title":"Current (-mA)","values":[0,0.1,0.2,0.3,0.4,0.5],"format":".1f","titlePadding":6.8,"labelOverlap":false,"tickCount":20}}}},
  {"data":{"name":"f"},"mark":{"type":"circle","size":130,"color":"#1e8cff","opacity":1,"clip":true},
   "encoding":{"x":{"field":"n","type":"quantitative"},"y":{"field":"v","type":"quantitative"}}},
  {"data":{"values":[{}]},"mark":{"type":"text","text":"f","fontSize":30,"fontWeight":"bold","align":"left","baseline":"alphabetic"},
   "encoding":{"x":{"datum":1.196},"y":{"datum":0.45}}}
 ]}
]
}
